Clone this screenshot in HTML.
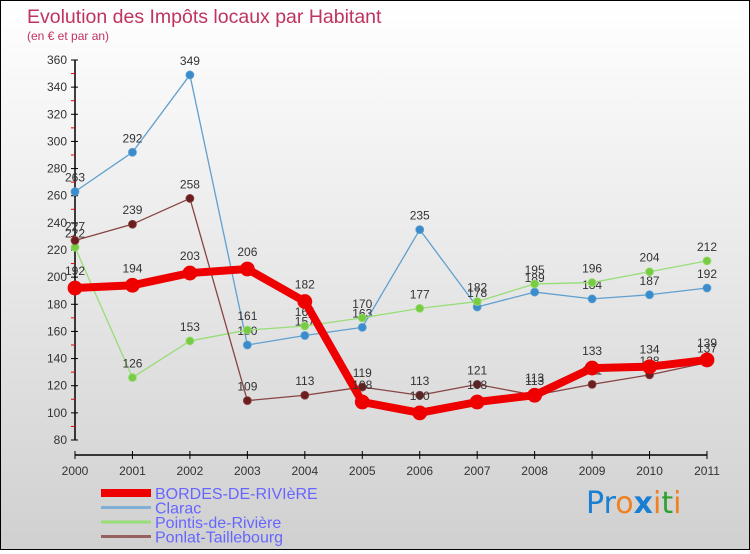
<!DOCTYPE html>
<html><head><meta charset="utf-8"><style>
body{margin:0;width:750px;height:550px;overflow:hidden;font-family:"Liberation Sans",sans-serif}
#wrap{position:relative;width:748px;height:548px;border:1px solid #000;background:linear-gradient(#ffffff,#d0d0d0)}
</style></head><body>
<div id="wrap">
<svg id="chart" width="748" height="548" font-family="Liberation Sans,sans-serif">
<text x="26" y="22" font-size="19.5" fill="#c0335f">Evolution des Impôts locaux par Habitant</text>
<text x="26" y="39" font-size="12" fill="#c0335f">(en € et par an)</text>
<g id="axes"></g><g id="series"></g><g id="legend"></g>
<text x="585" y="512" font-size="30" font-family="DejaVu Sans,sans-serif"><tspan fill="#1a7fd0">Pr</tspan><tspan fill="#f08020">o</tspan><tspan fill="#1a7fd0" font-weight="bold">x</tspan><tspan fill="#f08020">i</tspan><tspan fill="#30a030">t</tspan><tspan fill="#f08020">i</tspan></text>
</svg></div>
<script>
const years=["2000","2001","2002","2003","2004","2005","2006","2007","2008","2009","2010","2011"];
const yTicks=[80,100,120,140,160,180,200,220,240,260,280,300,320,340,360];
const bordes=[192,194,203,206,182,108,100,108,113,133,134,139];
const clarac=[263,292,349,150,157,163,235,178,189,184,187,192];
const pointis=[222,126,153,161,164,170,177,182,195,196,204,212];
const ponlat=[227,239,258,109,113,119,113,121,113,121,128,137];
const NS="http://www.w3.org/2000/svg";
const X=i=>74+i*(632/11);
const Y=v=>439-(v-80)*(380/280);
function mk(t,a,p){const e=document.createElementNS(NS,t);for(const k in a)e.setAttribute(k,a[k]);p.appendChild(e);return e;}
const ax=document.getElementById('axes');
let e=mk('line',{x1:74,y1:Y(360),x2:74,y2:Y(80),stroke:'#000','stroke-width':1.5},ax);


e=mk('line',{x1:74,y1:Y(80)+15,x2:X(11),y2:Y(80)+15,stroke:'#000','stroke-width':1.5},ax);


yTicks.forEach(v=>{
 mk('line',{x1:70,x2:77,y1:Y(v),y2:Y(v),stroke:'#000'},ax);
 if(v<360)mk('line',{x1:70,x2:74,y1:Y(v+10),y2:Y(v+10),stroke:'#e00'},ax);
 const t=mk('text',{x:66,y:Y(v)+4,'font-size':12,fill:'#333','text-anchor':'end'},ax);t.textContent=v;
 
 
});
years.forEach((y,i)=>{
 mk('line',{x1:X(i),x2:X(i),y1:Y(80)+11,y2:Y(80)+19,stroke:'#000'},ax);
 const t=mk('text',{x:X(i),y:Y(80)+35,'font-size':12,fill:'#333','text-anchor':'middle'},ax);t.textContent=y;
 
 
});
const sg=document.getElementById('series');
function series(data,color,dot,w,r,name){
 const g=mk('g',{},sg);
 
 
 mk('polyline',{points:data.map((v,i)=>X(i)+','+Y(v)).join(' '),fill:'none',stroke:color,'stroke-width':w,'stroke-linejoin':'round'},g);
 data.forEach((v,i)=>{
  const c=mk('circle',{cx:X(i),cy:Y(v),r:r,fill:dot,stroke:color,'stroke-width':0.8},g);
  
  
  const t=mk('text',{x:X(i),y:Y(v)-10-(r>5?3:0),'font-size':12,fill:'#333','text-anchor':'middle'},g);t.textContent=v;
  
  
 });
}
series(clarac,'#5fa0d0','#3a8ccc',1.3,4,'series-clarac');
series(pointis,'#99dd77','#77cc44',1.3,4,'series-pointis');
series(ponlat,'#884444','#6b1e1e',1.3,4,'series-ponlat');
series(bordes,'#ee0000','#ee0000',8,7,'series-bordes');
const lg=document.getElementById('legend');
const items=[['BORDES-DE-RIVIèRE','#ee0000',8],['Clarac','#80b0d8',3],['Pointis-de-Rivière','#99dd77',3],['Ponlat-Taillebourg','#996060',3]];
items.forEach((it,i)=>{
 const y=492+i*14.5;
 const l=mk('line',{x1:100,x2:150,y1:y,y2:y,stroke:it[1],'stroke-width':it[2]},lg);
 
 
 const t=mk('text',{x:154,y:y+6,'font-size':16,fill:'#6666ff'},lg);t.textContent=it[0];
 
 
});
</script></body></html>
